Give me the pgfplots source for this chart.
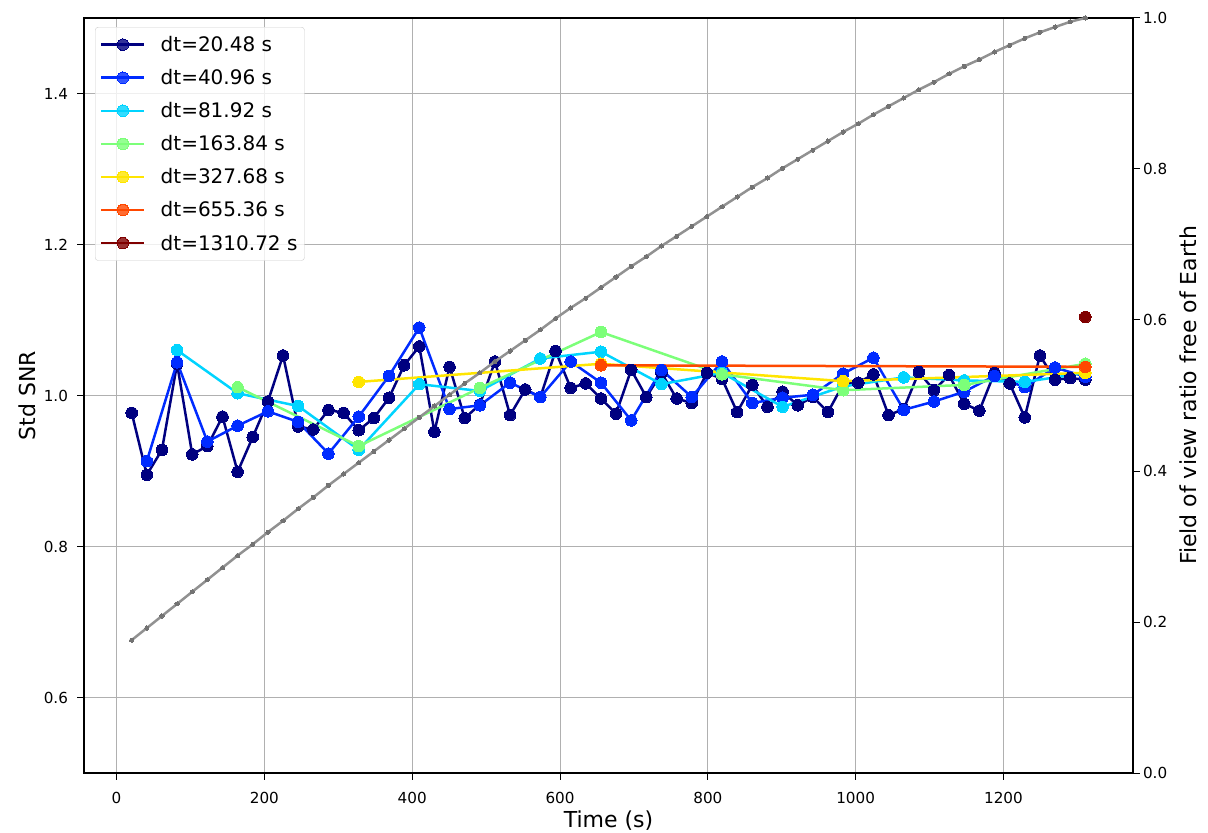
\documentclass[border=0pt]{standalone}
\usepackage{fontspec}
\setmainfont{DejaVu Sans}
\usepackage{pgfplots}
\pgfplotsset{compat=1.18}
\definecolor{c1}{RGB}{0,0,128}
\definecolor{c2}{RGB}{0,43,255}
\definecolor{c3}{RGB}{0,212,255}
\definecolor{c4}{RGB}{124,255,121}
\definecolor{c5}{RGB}{255,229,0}
\definecolor{c6}{RGB}{255,72,0}
\definecolor{c7}{RGB}{128,0,0}
\definecolor{gridc}{RGB}{176,176,176}
\definecolor{grayline}{RGB}{145,145,145}
\definecolor{graymark}{RGB}{115,115,115}
\pgfplotsset{
  common/.style={
    scale only axis, width=1049pt, height=755pt,
    xmin=-44.03, xmax=1375.23,
    tick align=outside, major tick length=6.5pt,
    every tick/.style={black, line width=1pt},
    axis line style={line width=1.1pt},
    tick label style={font=\fontsize{15.2}{18}\selectfont},
    label style={font=\fontsize{22}{26}\selectfont},
    /pgf/number format/assume math mode=true,
    /pgf/number format/1000 sep={},
  },
  ser/.style={color=#1, line width=2.5pt, mark=*, mark size=5.8pt, mark options={fill=#1, draw=#1, line width=0pt}},
}
\begin{document}
\begin{tikzpicture}
\begin{axis}[common, name=ax,
  ymin=0.5, ymax=1.5,
  xtick={0,200,400,600,800,1000,1200},
  ytick={0.6,0.8,1.0,1.2,1.4},
  xtick pos=bottom, ytick pos=left,
  xticklabel shift=9pt, yticklabel shift=6pt,
  yticklabel style={/pgf/number format/.cd, fixed, fixed zerofill, precision=1},
  grid=major, grid style={gridc, line width=1pt},
  xlabel={Time (s)}, ylabel={Std SNR},
  xlabel style={at={(axis description cs:0.5,-0.0625)}, anchor=center},
  ylabel style={at={(axis description cs:-0.0543,0.5)}, anchor=center},
  legend cell align=left,
  legend image code/.code={\draw[mark repeat=2, mark phase=2, #1] plot coordinates {(0pt,0pt) (21.5pt,0pt) (43pt,0pt)};},
  legend style={at={(0.0105,0.988)}, anchor=north west, draw=black!20, rounded corners=3pt,
    fill=white, fill opacity=0.8, text opacity=1, font=\fontsize{20}{24}\selectfont,
    row sep=12.4pt, column sep=13pt, inner xsep=5pt, inner ysep=7pt},
]
\addplot[ser=c1] coordinates {
(20.48,0.977)(40.96,0.895)(61.44,0.928)(81.92,1.042)(102.4,0.922)(122.88,0.933)(143.36,0.972)(163.84,0.899)
(184.32,0.945)(204.8,0.992)(225.28,1.053)(245.76,0.959)(266.24,0.955)(286.72,0.981)(307.2,0.977)(327.68,0.954)
(348.16,0.970)(368.64,0.997)(389.12,1.040)(409.6,1.065)(430.08,0.952)(450.56,1.038)(471.04,0.970)(491.52,0.988)
(512,1.045)(532.48,0.974)(552.96,1.008)(573.44,0.998)(593.92,1.059)(614.4,1.010)(634.88,1.016)(655.36,0.996)
(675.84,0.976)(696.32,1.034)(716.8,0.998)(737.28,1.030)(757.76,0.996)(778.24,0.990)(798.72,1.030)(819.2,1.022)
(839.68,0.978)(860.16,1.014)(880.64,0.985)(901.12,1.005)(921.6,0.987)(942.08,0.998)(962.56,0.978)(983.04,1.015)
(1003.52,1.017)(1024,1.028)(1044.48,0.974)(1064.96,0.982)(1085.44,1.031)(1105.92,1.007)(1126.4,1.027)(1146.88,0.989)
(1167.36,0.980)(1187.84,1.030)(1208.32,1.016)(1228.8,0.971)(1249.28,1.053)(1269.76,1.021)(1290.24,1.023)(1310.72,1.021)
};
\addlegendentry{dt=20.48 s}
\addplot[ser=c2] coordinates {
(40.96,0.913)(81.92,1.044)(122.88,0.939)(163.84,0.960)(204.8,0.979)(245.76,0.965)(286.72,0.923)(327.68,0.972)
(368.64,1.026)(409.6,1.090)(450.56,0.982)(491.52,0.987)(532.48,1.017)(573.44,0.998)(614.4,1.045)(655.36,1.017)
(696.32,0.967)(737.28,1.034)(778.24,0.998)(819.2,1.045)(860.16,0.990)(901.12,0.997)(942.08,1.001)(983.04,1.029)
(1024,1.050)(1064.96,0.981)(1105.92,0.992)(1146.88,1.005)(1187.84,1.026)(1228.8,1.011)(1269.76,1.037)(1310.72,1.025)
};
\addlegendentry{dt=40.96 s}
\addplot[ser=c3] coordinates {
(81.92,1.060)(163.84,1.003)(245.76,0.986)(327.68,0.928)(409.6,1.015)(491.52,1.006)(573.44,1.049)(655.36,1.058)
(737.28,1.015)(819.2,1.030)(901.12,0.985)(983.04,1.012)(1064.96,1.024)(1146.88,1.020)(1228.8,1.018)(1310.72,1.030)
};
\addlegendentry{dt=81.92 s}
\addplot[ser=c4] coordinates {
(163.84,1.011)(327.68,0.933)(491.52,1.010)(655.36,1.084)(819.2,1.028)(983.04,1.007)(1146.88,1.014)(1310.72,1.042)
};
\addlegendentry{dt=163.84 s}
\addplot[ser=c5] coordinates {
(327.68,1.018)(655.36,1.042)(983.04,1.019)(1310.72,1.030)
};
\addlegendentry{dt=327.68 s}
\addplot[ser=c6] coordinates {
(655.36,1.040)(1310.72,1.038)
};
\addlegendentry{dt=655.36 s}
\addplot[ser=c7] coordinates {
(1310.72,1.104)
};
\addlegendentry{dt=1310.72 s}
\end{axis}
\begin{axis}[common,
  ymin=0, ymax=1,
  axis x line=none, axis y line*=right,
  ytick={0,0.2,0.4,0.6,0.8,1.0},
  yticklabel style={/pgf/number format/.cd, fixed, fixed zerofill, precision=1},
  ylabel={Field of view ratio free of Earth},
  ylabel style={at={(axis description cs:1.0524,0.5)}, anchor=center},
]
\addplot[color=grayline, line width=2.5pt, mark=*, mark size=2.1pt, mark options={fill=graymark, draw=graymark, line width=0pt}] coordinates {
(20.48,0.176)(40.96,0.192)(61.44,0.208)(81.92,0.224)(102.4,0.240)(122.88,0.256)(143.36,0.272)(163.84,0.288)
(184.32,0.303)(204.8,0.319)(225.28,0.334)(245.76,0.350)(266.24,0.365)(286.72,0.381)(307.2,0.396)(327.68,0.411)
(348.16,0.426)(368.64,0.441)(389.12,0.456)(409.6,0.471)(430.08,0.486)(450.56,0.501)(471.04,0.516)(491.52,0.530)
(512,0.545)(532.48,0.559)(552.96,0.573)(573.44,0.587)(593.92,0.602)(614.4,0.616)(634.88,0.629)(655.36,0.643)
(675.84,0.657)(696.32,0.671)(716.8,0.684)(737.28,0.698)(757.76,0.711)(778.24,0.724)(798.72,0.737)(819.2,0.750)
(839.68,0.763)(860.16,0.776)(880.64,0.788)(901.12,0.801)(921.6,0.813)(942.08,0.825)(962.56,0.837)(983.04,0.849)
(1003.52,0.860)(1024,0.872)(1044.48,0.883)(1064.96,0.894)(1085.44,0.905)(1105.92,0.915)(1126.4,0.926)(1146.88,0.936)
(1167.36,0.945)(1187.84,0.955)(1208.32,0.964)(1228.8,0.973)(1249.28,0.981)(1269.76,0.988)(1290.24,0.995)(1310.72,1.000)
};
\end{axis}
\pgfresetboundingbox
\path[use as bounding box] ([xshift=-84pt,yshift=-59pt]ax.south west) rectangle ([xshift=75pt,yshift=18pt]ax.north east);
\end{tikzpicture}
\end{document}
